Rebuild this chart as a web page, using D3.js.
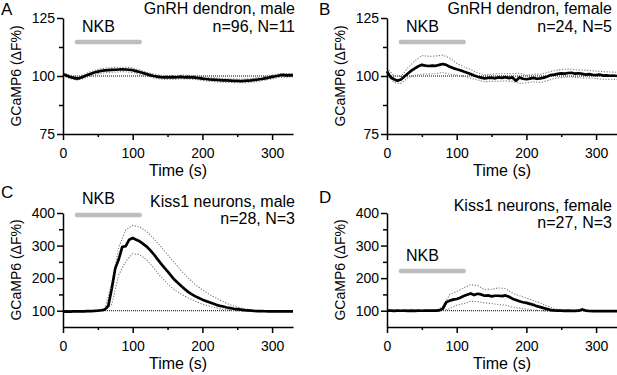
<!DOCTYPE html>
<html>
<head>
<meta charset="utf-8">
<script src="https://cdn.jsdelivr.net/npm/d3@7"></script>
<style>
  body { margin: 0; background: #fff; }
  svg text { font-family: "Liberation Sans", Arial, sans-serif; fill: #000; }
</style>
</head>
<body>
<svg id="fig" width="617" height="375"></svg>
<script>
// sampling grids (s)
const t5 = [
  0, 5, 10, 15, 20, 25, 30, 35, 40, 45,
  50, 55, 60, 65, 70, 75, 80, 85, 90, 95,
  100, 105, 110, 115, 120, 125, 130, 135, 140, 145,
  150, 155, 160, 165, 170, 175, 180, 185, 190, 195,
  200, 205, 210, 215, 220, 225, 230, 235, 240, 245,
  250, 255, 260, 265, 270, 275, 280, 285, 290, 295,
  300, 305, 310, 315, 320, 325, 330
];
const t10 = [
  0, 10, 20, 30, 40, 50, 60, 70, 80, 90,
  100, 110, 120, 130, 140, 150, 160, 170, 180, 190,
  200, 210, 220, 230, 240, 250, 260, 270, 280, 290,
  300, 310, 320, 330
];

// A: GnRH dendron, male
const meanA = [
  100.8, 100.2, 99.6, 99.2, 98.9, 99.2, 99.8, 100.4, 101.0, 101.5,
  101.9, 102.2, 102.4, 102.5, 102.6, 102.7, 102.8, 102.9, 102.8, 102.7,
  102.5, 102.1, 101.7, 101.3, 100.8, 100.4, 100.0, 99.7, 99.5, 99.4,
  99.4, 99.5, 99.4, 99.5, 99.6, 99.4, 99.5, 99.4, 99.3, 99.1,
  98.9, 98.7, 98.5, 98.4, 98.3, 98.2, 98.1, 98.1, 98.0, 97.9,
  97.9, 97.8, 97.9, 98.0, 98.1, 98.3, 98.5, 98.7, 99.0, 99.3,
  99.6, 99.9, 100.2, 100.5, 100.3, 100.4, 100.3
];
const upperA = [
  101.5, 100.3, 99.6, 100.6, 101.9, 102.9, 103.4, 103.6, 103.8, 103.8,
  103.5, 102.6, 101.6, 100.8, 100.3, 100.2, 100.2, 100.4, 100.3, 100.1,
  99.7, 99.3, 99.1, 98.9, 98.8, 98.7, 98.7, 98.9, 99.3, 99.8,
  100.4, 101.0, 101.1, 101.0
];
const lowerA = [
  100.1, 98.9, 98.2, 99.0, 100.1, 100.9, 101.4, 101.6, 101.8, 101.8,
  101.5, 100.8, 100.0, 99.2, 98.7, 98.6, 98.6, 98.8, 98.7, 98.5,
  98.1, 97.7, 97.5, 97.3, 97.2, 97.1, 97.1, 97.3, 97.7, 98.2,
  98.8, 99.4, 99.5, 99.6
];

// B: GnRH dendron, female
const meanB = [
  102.0, 99.5, 98.6, 98.0, 98.5, 99.8, 101.1, 102.3, 103.3, 104.2,
  104.8, 104.5, 104.3, 104.5, 104.4, 104.8, 105.2, 104.8, 104.0, 103.4,
  102.9, 102.5, 101.9, 101.4, 100.9, 100.2, 99.7, 99.3, 99.0, 99.2,
  99.3, 99.0, 99.4, 99.2, 99.5, 99.1, 99.4, 98.0, 99.4, 98.8,
  98.6, 98.9, 99.2, 98.8, 99.0, 99.3, 99.8, 100.4, 100.6, 100.9,
  101.1, 101.0, 101.3, 101.4, 101.0, 101.2, 100.9, 100.6, 100.8, 100.5,
  100.4, 100.6, 100.2, 100.3, 100.1, 100.2, 100.0
];
const upperB = [
  103.5, 100.0, 99.8, 103.5, 106.5, 108.8, 108.5, 108.6, 109.0, 107.8,
  105.5, 104.0, 102.8, 101.3, 100.6, 100.8, 101.0, 101.0, 101.0, 101.2,
  100.3, 100.8, 100.8, 101.5, 102.3, 102.8, 103.0, 102.7, 102.6, 102.4,
  102.1, 101.9, 101.7, 101.6
];
const lowerB = [
  100.5, 97.2, 96.8, 99.2, 100.3, 100.8, 100.9, 101.0, 101.5, 100.8,
  100.4, 99.9, 99.0, 98.3, 97.5, 97.8, 97.7, 97.9, 97.7, 96.8,
  97.0, 97.5, 97.2, 98.0, 98.9, 99.3, 99.6, 99.4, 99.2, 99.1,
  98.9, 98.6, 98.6, 98.5
];

// C: Kiss1 neurons, male
const meanC = [
  97.5, 97.8, 97.4, 97.9, 98.0, 97.7, 98.2, 98.5, 98.9, 99.4,
  100.2, 101.5, 103.5, 115, 168, 230, 258, 296, 298, 318,
  323, 318, 313, 305, 297, 286, 274, 260, 246, 233,
  221, 208, 195, 185, 175, 166, 157, 150, 144, 139,
  134, 130, 126, 122, 118, 115, 113, 110, 108, 106,
  105, 103.5, 102, 101, 100, 99.2, 98.8, 98.5, 98.3, 98.2,
  98.0, 98.1, 97.9, 98.0, 97.8, 97.9, 98.0
];
const upperC = [
  99, 99, 99.5, 99.8, 100.5, 101.5, 105, 185, 295, 348,
  362, 357, 343, 322, 298, 272, 247, 222, 200, 180,
  164, 150, 139, 128, 118, 111, 106, 102, 100, 99.5,
  99.2, 99.2, 99, 99
];
const lowerC = [
  96, 96.5, 96.8, 97, 97.5, 98.5, 100, 120, 210, 252,
  275, 272, 256, 232, 205, 183, 164, 150, 139, 129,
  120, 114, 108, 104, 101.5, 99.5, 98.5, 97.5, 97, 97,
  96.8, 96.8, 96.8, 96.8
];

// D: Kiss1 neurons, female
const meanD = [
  100.5, 100.2, 99.8, 100.1, 99.9, 100.0, 99.7, 100.0, 99.8, 100.1,
  99.9, 100.0, 100.2, 100.1, 100.4, 101.0, 106, 126, 131, 134,
  136, 140, 145, 149, 153, 148, 152, 150, 146, 147,
  144, 146, 146, 145, 147, 143, 137, 133, 129, 126,
  124, 121, 118, 114, 111, 108, 105, 102, 101, 100.5,
  100.2, 99.8, 100.0, 99.5, 99.8, 100.2, 104, 100.5, 99.2, 98.8,
  99.0, 98.8, 99.1, 98.9, 99.0, 98.8, 99.0
];
const upperD = [
  101, 101, 101, 101, 101, 101, 101.5, 102, 112, 150,
  159, 170, 180, 177, 165, 166, 170, 168, 154, 146,
  139, 131, 124, 114, 106, 102, 101.5, 101.5, 105, 100.5,
  100.3, 100.3, 100.3, 100.3
];
const lowerD = [
  99, 99, 99, 99, 99, 99, 99.2, 99.5, 100, 106,
  117, 122, 129, 128, 124, 122, 119, 117, 111, 108,
  105, 102, 100, 98, 97.5, 98, 98, 98, 98, 97.5,
  97.5, 97.3, 97.5, 97.5
];

const nkb = [20, 110];            // NKB application (s)
const xTicks = [0, 100, 200, 300];
const xMinor = [50, 150, 250];
const yTicksAB = [75, 100, 125];
const yMinorAB = [87.5, 112.5];
const yTicksCD = [100, 200, 300, 400];
const yMinorCD = [150, 250, 350];

const panels = [
  { letter: 'A', title: ['GnRH dendron, male', 'n=96, N=11'], mean: meanA, upper: upperA, lower: lowerA,
    yDomain: [75, 125], yTicks: yTicksAB, yMinor: yMinorAB,
    left: 63, top: 18, bottom: 134, letterPos: [1, 15], titleX: 295, titleY: [14, 32],
    nkbY: 42, nkbTextY: 32 },
  { letter: 'B', title: ['GnRH dendron, female', 'n=24, N=5'], mean: meanB, upper: upperB, lower: lowerB,
    yDomain: [75, 125], yTicks: yTicksAB, yMinor: yMinorAB,
    left: 387, top: 18, bottom: 134, letterPos: [319, 15], titleX: 612, titleY: [14, 32],
    nkbY: 42, nkbTextY: 32 },
  { letter: 'C', title: ['Kiss1 neurons, male', 'n=28, N=3'], mean: meanC, upper: upperC, lower: lowerC,
    yDomain: [50, 400], yTicks: yTicksCD, yMinor: yMinorCD,
    left: 63, top: 213, bottom: 327, letterPos: [1, 198], titleX: 295, titleY: [207, 224],
    nkbY: 215, nkbTextY: 204 },
  { letter: 'D', title: ['Kiss1 neurons, female', 'n=27, N=3'], mean: meanD, upper: upperD, lower: lowerD,
    yDomain: [50, 400], yTicks: yTicksCD, yMinor: yMinorCD,
    left: 387, top: 213, bottom: 327, letterPos: [319, 203], titleX: 612, titleY: [211, 228],
    nkbY: 271, nkbTextY: 261 }
];

const svg = d3.select('#fig');

function drawPanel(p) {
    const x = d3.scaleLinear().domain([0, 330]).range([p.left, p.left + 230]);
    const y = d3.scaleLinear().domain(p.yDomain).range([p.bottom, p.top]);
    const g = svg.append('g');

    // baseline at 100%
    g.append('line')
        .attr('x1', x(0)).attr('x2', x(330))
        .attr('y1', y(100)).attr('y2', y(100))
        .attr('stroke', '#000').attr('stroke-width', 1)
        .attr('stroke-dasharray', '1,1');

    const line = d3.line().x(d => x(d[0])).y(d => y(d[1]));

    // SEM envelopes
    [p.upper, p.lower].forEach(s => {
        g.append('path')
            .datum(t10.map((t, i) => [t, s[i]]))
            .attr('d', line)
            .attr('fill', 'none')
            .attr('stroke', '#7a7a7a')
            .attr('stroke-width', 1.1)
            .attr('stroke-dasharray', '1.2,1.6');
    });

    // mean trace
    g.append('path')
        .datum(t5.map((t, i) => [t, p.mean[i]]))
        .attr('d', line)
        .attr('fill', 'none')
        .attr('stroke', '#000')
        .attr('stroke-width', 2.7)
        .attr('stroke-linejoin', 'round');

    // axes
    const fmt = d3.format('d');
    g.append('g')
        .attr('transform', `translate(0,${p.bottom})`)
        .call(d3.axisBottom(x).tickValues(xMinor).tickSize(3).tickSizeOuter(0).tickFormat(''))
        .call(a => a.select('.domain').remove());
    g.append('g')
        .attr('transform', `translate(${p.left},0)`)
        .call(d3.axisLeft(y).tickValues(p.yMinor).tickSize(4).tickSizeOuter(0).tickFormat(''))
        .call(a => a.select('.domain').remove());
    const xa = g.append('g')
        .attr('transform', `translate(0,${p.bottom})`)
        .call(d3.axisBottom(x).tickValues(xTicks).tickSize(6).tickSizeOuter(0).tickPadding(8).tickFormat(fmt));
    const ya = g.append('g')
        .attr('transform', `translate(${p.left},0)`)
        .call(d3.axisLeft(y).tickValues(p.yTicks).tickSize(6).tickSizeOuter(0).tickPadding(2).tickFormat(fmt));
    g.selectAll('.domain, .tick line').attr('stroke', '#000').attr('stroke-width', 1.5);
    [xa, ya].forEach(a => a.selectAll('text')
        .attr('font-size', 14).attr('font-family', '"Liberation Sans", Arial, sans-serif').attr('fill', '#000'));

    // axis titles
    g.append('text')
        .attr('x', x(165)).attr('y', p.bottom + 42)
        .attr('text-anchor', 'middle').attr('font-size', 16)
        .text('Time (s)');
    g.append('text')
        .attr('transform', `translate(${p.left - 42},${(p.top + p.bottom) / 2}) rotate(-90)`)
        .attr('text-anchor', 'middle').attr('font-size', 14)
        .text('GCaMP6 (ΔF%)');

    // NKB bar
    g.append('line')
        .attr('x1', x(nkb[0])).attr('x2', x(nkb[1]))
        .attr('y1', p.nkbY).attr('y2', p.nkbY)
        .attr('stroke', '#bdbdbd').attr('stroke-width', 4.5)
        .attr('stroke-linecap', 'round');
    g.append('text')
        .attr('x', x(nkb[0]) + 5).attr('y', p.nkbTextY)
        .attr('font-size', 16)
        .text('NKB');

    // titles
    p.title.forEach((s, i) => {
        g.append('text')
            .attr('x', p.titleX).attr('y', p.titleY[i])
            .attr('text-anchor', 'end').attr('font-size', 16)
            .text(s);
    });

    // panel letter
    g.append('text')
        .attr('x', p.letterPos[0]).attr('y', p.letterPos[1])
        .attr('font-size', 17)
        .text(p.letter);
}

panels.forEach(drawPanel);
</script>
</body>
</html>
